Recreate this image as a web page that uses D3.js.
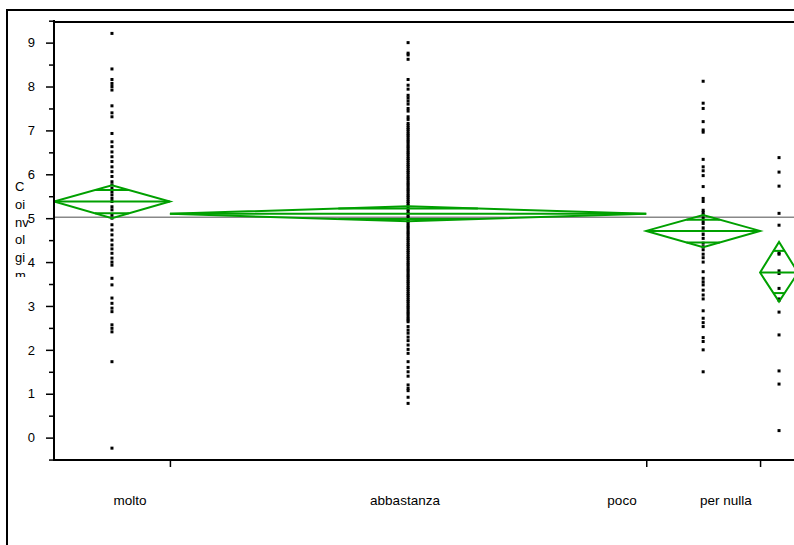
<!DOCTYPE html>
<html>
<head>
<meta charset="utf-8">
<script src="https://cdn.jsdelivr.net/npm/d3@7"></script>
<style>
  body { margin: 0; background: #fff; }
  svg { display: block; }
  text { font-family: "Liberation Sans", Arial, sans-serif; fill: #000; }
</style>
</head>
<body>
<svg id="chart" width="794" height="545"></svg>
<script>
// groups, counts (set the band widths) and means diamonds
var categories = ["molto", "abbastanza", "poco", "per nulla"];
var counts = [55, 226, 54, 18];
var means = [5.38, 5.10, 4.71, 3.76];
var upper95 = [5.75, 5.27, 5.07, 4.46];
var lower95 = [5.00, 4.93, 4.34, 3.10];
var grandMean = 5.02;
var yTicks = [0, 1, 2, 3, 4, 5, 6, 7, 8, 9];
var yLabelLines = ["C", "oi", "nv", "ol", "gi", "m"];

// individual observations per group
var molto = [9.21, 8.40, 8.16, 8.07, 8.00, 7.92, 7.56, 7.40, 7.31, 6.93,
  6.74, 6.63, 6.51, 6.40, 6.29, 6.17, 6.06, 5.95, 5.83, 5.76, 5.68, 5.60,
  5.53, 5.45, 5.38, 5.26, 5.19, 5.07, 5.00, 4.85, 4.73, 4.62, 4.50, 4.39,
  4.30, 4.20, 4.09, 4.00, 3.93, 3.63, 3.48, 3.18, 3.06, 2.95, 2.87, 2.57,
  2.49, 2.41, 1.73, -0.24];
var abbastanza = [9.00, 8.76, 8.72, 8.62, 8.16, 8.03, 7.94, 7.80, 7.74,
  7.67, 7.60, 7.50, 7.44, 7.31, 7.25, 7.16,
  7.11, 7.06, 7.02, 6.97, 6.92, 6.88, 6.83, 6.78, 6.74, 6.69, 6.64, 6.60,
  6.55, 6.50, 6.46, 6.41, 6.36, 6.32, 6.27, 6.22, 6.18, 6.13, 6.08, 6.04,
  5.99, 5.94, 5.90, 5.85, 5.80, 5.76, 5.71, 5.66, 5.62, 5.57, 5.52, 5.48,
  5.43, 5.38, 5.34, 5.29, 5.24, 5.20, 5.15, 5.10, 5.06, 5.01, 4.96, 4.92,
  4.87, 4.82, 4.78, 4.73, 4.68, 4.64, 4.59, 4.54, 4.50, 4.45, 4.40, 4.36,
  4.31, 4.26, 4.22, 4.17, 4.12, 4.08, 4.03, 3.98, 3.94, 3.89, 3.84, 3.80,
  3.75, 3.70, 3.66, 3.61, 3.56, 3.52, 3.47, 3.42, 3.38, 3.33, 3.28, 3.24,
  3.19, 3.14, 3.10, 3.05, 3.00, 2.96, 2.91, 2.86, 2.82, 2.77, 2.72, 2.68,
  2.64, 2.53, 2.45, 2.38, 2.29, 2.21, 2.11, 2.01, 1.92, 1.73, 1.60, 1.50,
  1.40, 1.20, 1.12, 1.07, 0.92, 0.78];
var poco = [8.12, 7.62, 7.50, 7.20, 7.01, 6.96, 6.34, 6.17, 6.08, 5.97,
  5.72, 5.45, 5.38, 5.18, 5.13, 5.07, 5.00, 4.94, 4.88, 4.78, 4.71, 4.63,
  4.54, 4.43, 4.35, 4.28, 4.18, 4.10, 4.00, 3.78, 3.63, 3.55, 3.48, 3.36,
  3.25, 3.16, 2.89, 2.72, 2.62, 2.53, 2.28, 2.19, 2.00, 1.50];
var perNulla = [6.38, 6.05, 5.73, 5.11, 4.84, 4.21, 4.18, 3.80, 3.74, 3.40,
  3.16, 3.13, 2.86, 2.34, 1.52, 1.22, 0.16];
var groups = [molto, abbastanza, poco, perNulla];

// where JMP left the category names under the axis
var labelX = [130, 405, 622, 726];

var svg = d3.select("#chart");
var plot = { left: 54, top: 22, right: 798, bottom: 460 };
var green = "#00a000";

var total = d3.sum(counts);
var cum = d3.cumsum(counts);
var x = d3.scaleLinear().domain([0, total]).range([plot.left, plot.right]);
var y = d3.scaleLinear().domain([-0.51, 9.47]).range([plot.bottom, plot.top]);

var bands = categories.map(function(c, i) {
  var x0 = x(i === 0 ? 0 : cum[i - 1]), x1 = x(cum[i]);
  return { name: c, x0: x0, x1: x1, cx: (x0 + x1) / 2, mean: means[i],
    hi: upper95[i], lo: lower95[i], values: groups[i] };
});

// outer frame
svg.append("path")
  .attr("d", "M7,545V10H794")
  .attr("fill", "none").attr("stroke", "#000").attr("stroke-width", 2);

svg.append("defs").append("clipPath").attr("id", "plotClip")
  .append("rect").attr("x", plot.left).attr("y", plot.top)
  .attr("width", plot.right - plot.left).attr("height", plot.bottom - plot.top);

var g = svg.append("g").attr("clip-path", "url(#plotClip)");

// grand mean
g.append("line")
  .attr("x1", plot.left).attr("x2", plot.right)
  .attr("y1", y(grandMean)).attr("y2", y(grandMean))
  .attr("stroke", "#888").attr("stroke-width", 1.6);

// points
bands.forEach(function(b) {
  g.append("g").selectAll("rect")
    .data(b.values)
    .enter().append("rect")
    .attr("x", b.cx - 1.5)
    .attr("y", function(d) { return y(d) - 1.5; })
    .attr("width", 3).attr("height", 3)
    .attr("fill", "#000");
});

// means diamonds with overlap marks
var k = 1 / Math.SQRT2;
bands.forEach(function(b) {
  var dg = g.append("g").attr("fill", "none").attr("stroke", green).attr("stroke-width", 2);
  var ym = y(b.mean), yt = y(b.hi), yb = y(b.lo);
  dg.append("path")
    .attr("d", "M" + b.x0 + "," + ym + "L" + b.cx + "," + yt + "L" + b.x1 + "," + ym +
      "L" + b.cx + "," + yb + "Z");
  dg.append("line").attr("x1", b.x0).attr("x2", b.x1).attr("y1", ym).attr("y2", ym);
  var half = (b.x1 - b.x0) / 2 * (1 - k);
  [b.mean + (b.hi - b.mean) * k, b.mean - (b.mean - b.lo) * k].forEach(function(v) {
    dg.append("line")
      .attr("x1", b.cx - half).attr("x2", b.cx + half)
      .attr("y1", y(v)).attr("y2", y(v));
  });
});

// y axis: major and minor ticks
var yAxis = svg.append("g").attr("transform", "translate(" + plot.left + ",0)")
  .call(d3.axisLeft(y).tickValues(yTicks).tickSize(8).tickPadding(11));
yAxis.select(".domain").remove();
yAxis.selectAll("line").attr("stroke", "#000").attr("stroke-width", 1.5);
yAxis.selectAll("text").attr("font-size", 13).attr("font-family", "Liberation Sans, Arial, sans-serif");

var yMinor = svg.append("g").attr("transform", "translate(" + plot.left + ",0)")
  .call(d3.axisLeft(y).tickValues(yTicks.map(function(t) { return t + 0.5; }).concat([-0.5]))
    .tickSize(5).tickFormat(""));
yMinor.select(".domain").remove();
yMinor.selectAll("line").attr("stroke", "#000").attr("stroke-width", 1.5);

// x axis ticks at group boundaries
var xAxis = svg.append("g").attr("transform", "translate(0," + plot.bottom + ")")
  .call(d3.axisBottom(x).tickValues(cum.slice(0, 3)).tickSize(7).tickFormat(""));
xAxis.select(".domain").remove();
xAxis.selectAll("line").attr("stroke", "#000").attr("stroke-width", 1.5);

// plot frame
svg.append("path")
  .attr("d", "M" + plot.left + ",20V" + plot.bottom + "H794M" + plot.left + "," + plot.top + "H794")
  .attr("fill", "none").attr("stroke", "#000").attr("stroke-width", 2);

// category labels
svg.append("g").selectAll("text")
  .data(categories)
  .enter().append("text")
  .attr("x", function(d, i) { return labelX[i]; })
  .attr("y", 505)
  .attr("text-anchor", "middle")
  .attr("font-size", 13.5)
  .text(function(d) { return d; });

// wrapped y label, clipped as in the original
svg.append("defs").append("clipPath").attr("id", "labClip")
  .append("rect").attr("x", 0).attr("y", 170).attr("width", 40).attr("height", 107);
svg.append("g").attr("clip-path", "url(#labClip)").selectAll("text")
  .data(yLabelLines)
  .enter().append("text")
  .attr("x", 15)
  .attr("y", function(d, i) { return 191 + i * 17.8; })
  .attr("font-size", 13)
  .text(function(d) { return d; });
</script>
</body>
</html>
